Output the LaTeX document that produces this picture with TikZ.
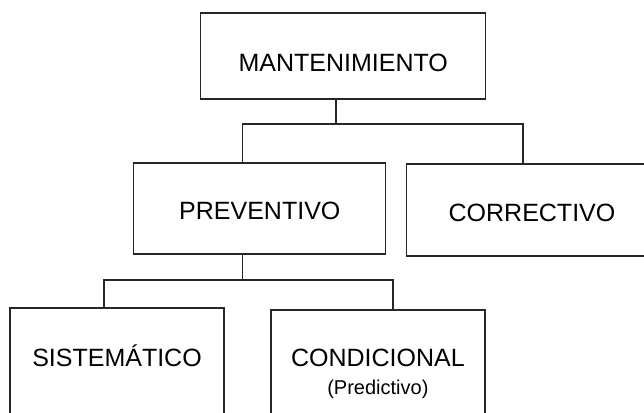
\documentclass[tikz,border=0pt]{standalone}
\usepackage{fontspec}
\setmainfont{Liberation Sans}

\begin{document}
\begin{tikzpicture}[x=0.75pt,y=-0.75pt,
    caja/.style={draw=black!85,line width=1pt,rectangle,inner sep=0pt,
        font=\fontsize{18.75}{22.5}\selectfont},
    linea/.style={draw=black!85,line width=1pt}]
    \useasboundingbox (0,0) rectangle (644,412);
    \clip (0,0) rectangle (644,412);

    % Cajas
    \node[caja,minimum width=213.75pt,minimum height=64.5pt,text height=24pt] (mantenimiento) at (343.3,56) {MANTENIMIENTO};
    \node[caja,minimum width=189pt,minimum height=68.25pt,text height=17.25pt] (preventivo) at (259.8,208.5) {PREVENTIVO};
    \node[caja,minimum width=188.25pt,minimum height=69pt,text height=17.25pt] (correctivo) at (532,210) {CORRECTIVO};
    \node[caja,minimum width=160.5pt,minimum height=96pt,text depth=24pt] (sistematico) at (117,372) {SISTEMÁTICO};
    \node[caja,minimum width=160.5pt,minimum height=96pt,align=center] (condicional) at (377.9,374)
        {CONDICIONAL\\[-1.5pt]{\fontsize{15}{18}\selectfont (Predictivo)}};

    % Puntos de union
    \coordinate (j1) at (336,124);
    \coordinate (r1) at (242.7,124);
    \coordinate (r2) at (523,124);
    \coordinate (j2) at (242.7,280);
    \coordinate (s1) at (104,280);
    \coordinate (s2) at (393,280);

    % Lineas
    \draw[linea] (j1 |- mantenimiento.south) -- (j1);
    \draw[linea] (r1 |- preventivo.north) -- (r1) -- (r2) -- (r2 |- correctivo.north);
    \draw[linea] (j2 |- preventivo.south) -- (j2);
    \draw[linea] (s1 |- sistematico.north) -- (s1) -- (s2) -- (s2 |- condicional.north);
\end{tikzpicture}
\end{document}
